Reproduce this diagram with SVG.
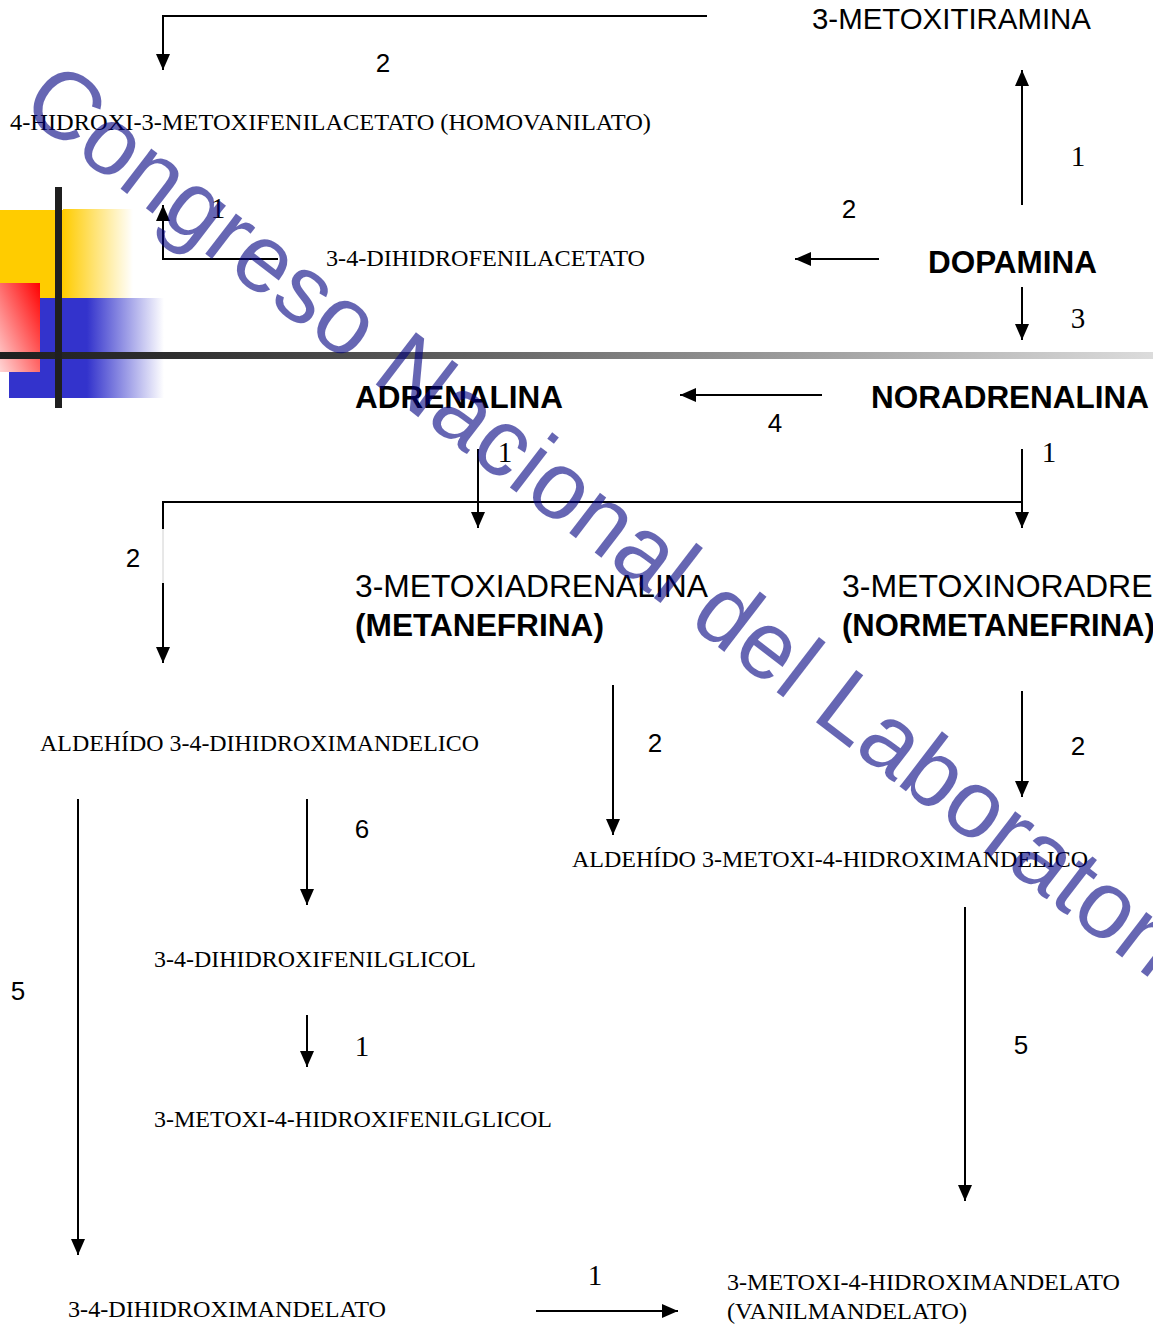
<svg xmlns="http://www.w3.org/2000/svg" width="1153" height="1326" viewBox="0 0 1153 1326">
<style>
.s{font-family:"Liberation Serif","Times New Roman",serif;font-size:24px;fill:#000}
.a{font-family:"Liberation Sans",Arial,sans-serif;font-size:32px;fill:#000}
.b{font-family:"Liberation Sans",Arial,sans-serif;font-size:31px;font-weight:bold;fill:#000}
.n{font-family:"Liberation Sans",Arial,sans-serif;font-size:26px;fill:#000;text-anchor:middle}
.t{font-family:"Liberation Serif","Times New Roman",serif;font-size:29px;fill:#000;text-anchor:middle}
.c{fill:none;stroke:#000;stroke-width:2}
.wm{font-family:"Liberation Sans",Arial,sans-serif;font-size:96px;fill:#000080;fill-opacity:0.6}
</style>
<defs>
<marker id="ah" viewBox="0 0 16 14" refX="16" refY="7" markerWidth="16" markerHeight="14" markerUnits="userSpaceOnUse" orient="auto">
<path d="M0,0 L16,7 L0,14 z" fill="#000"/>
</marker>
<linearGradient id="gy" x1="0" y1="0" x2="1" y2="0"><stop offset="0" stop-color="#FFCC00"/><stop offset="1" stop-color="#FFCC00" stop-opacity="0"/></linearGradient>
<linearGradient id="gb" x1="0" y1="0" x2="1" y2="0"><stop offset="0" stop-color="#3333CC"/><stop offset="1" stop-color="#3333CC" stop-opacity="0"/></linearGradient>
<linearGradient id="gr" x1="1" y1="0" x2="0" y2="1"><stop offset="0" stop-color="#FF0000"/><stop offset="1" stop-color="#FFD6D6"/></linearGradient>
<linearGradient id="gh" x1="0" y1="0" x2="1" y2="0"><stop offset="0" stop-color="#1F1F1F"/><stop offset="0.15" stop-color="#2E2E2E"/><stop offset="1" stop-color="#DCDCDC"/></linearGradient>
</defs>
<rect width="1153" height="1326" fill="#fff"/>
<g id="decoration">
<rect x="0" y="210" width="63" height="88" fill="#FFCC00"/>
<rect x="63" y="209" width="70" height="89" fill="url(#gy)"/>
<rect x="9" y="298" width="78" height="100" fill="#3333CC"/>
<rect x="87" y="298" width="77" height="100" fill="url(#gb)"/>
<rect x="0" y="283" width="40" height="89" fill="url(#gr)"/>
<rect x="0" y="352" width="1153" height="7" fill="url(#gh)"/>
<rect x="55" y="187" width="7" height="221" fill="#1F1F1F"/>
</g>
<g id="connectors">
<path class="c" d="M707,16 H163 V70" marker-end="url(#ah)"/>
<path class="c" d="M1022,205 V70" marker-end="url(#ah)"/>
<path class="c" d="M879,259 H795" marker-end="url(#ah)"/>
<path class="c" d="M1022,287 V340" marker-end="url(#ah)"/>
<path class="c" d="M278,259 H163 V205" marker-end="url(#ah)"/>
<path class="c" d="M822,395 H680" marker-end="url(#ah)"/>
<path class="c" d="M478,449 V528" marker-end="url(#ah)"/>
<path class="c" d="M1022,449 V528" marker-end="url(#ah)"/>
<path class="c" d="M163,529 V502 H1022"/>
<path d="M163,529 V583" stroke="#d0d0d0" stroke-width="1" fill="none"/>
<path class="c" d="M163,583 V663" marker-end="url(#ah)"/>
<path class="c" d="M613,685 V835" marker-end="url(#ah)"/>
<path class="c" d="M1022,691 V797" marker-end="url(#ah)"/>
<path class="c" d="M78,799 V1255" marker-end="url(#ah)"/>
<path class="c" d="M307,799 V905" marker-end="url(#ah)"/>
<path class="c" d="M307,1015 V1067" marker-end="url(#ah)"/>
<path class="c" d="M965,907 V1201" marker-end="url(#ah)"/>
<path class="c" d="M536,1311 H678" marker-end="url(#ah)"/>
</g>
<g id="labels">
<text class="n" x="383" y="72">2</text>
<text class="t" x="1078" y="166">1</text>
<text class="n" x="849" y="218">2</text>
<text class="t" x="1078" y="328">3</text>
<text class="t" x="218" y="218">1</text>
<text class="n" x="775" y="432">4</text>
<text class="t" x="505" y="462">1</text>
<text class="t" x="1049" y="462">1</text>
<text class="n" x="133" y="567">2</text>
<text class="n" x="655" y="752">2</text>
<text class="n" x="1078" y="755">2</text>
<text class="n" x="362" y="838">6</text>
<text class="n" x="18" y="1000">5</text>
<text class="t" x="362" y="1056">1</text>
<text class="n" x="1021" y="1054">5</text>
<text class="t" x="595" y="1285">1</text>
</g>
<g id="metoxitiramina"><text class="a" style="font-size:29px" x="812" y="29" textLength="279" lengthAdjust="spacingAndGlyphs">3-METOXITIRAMINA</text></g>
<g id="homovanilato"><text class="s" x="10" y="130" textLength="641" lengthAdjust="spacingAndGlyphs">4-HIDROXI-3-METOXIFENILACETATO (HOMOVANILATO)</text></g>
<g id="dopamina"><text class="b" x="928" y="273" textLength="169" lengthAdjust="spacingAndGlyphs">DOPAMINA</text></g>
<g id="dihidrofenilacetato"><text class="s" x="326" y="266" textLength="319" lengthAdjust="spacingAndGlyphs">3-4-DIHIDROFENILACETATO</text></g>
<g id="adrenalina"><text class="b" x="355" y="408" textLength="208" lengthAdjust="spacingAndGlyphs">ADRENALINA</text></g>
<g id="noradrenalina"><text class="b" x="871" y="408" textLength="278" lengthAdjust="spacingAndGlyphs">NORADRENALINA</text></g>
<g id="metanefrina">
<text class="a" x="355" y="597" textLength="353" lengthAdjust="spacingAndGlyphs">3-METOXIADRENALINA</text>
<text class="b" x="355" y="636" textLength="249" lengthAdjust="spacingAndGlyphs">(METANEFRINA)</text>
</g>
<g id="normetanefrina">
<text class="a" x="842" y="597">3-METOXINORADRE</text>
<text class="b" x="842" y="636">(NORMETANEFRINA)</text>
</g>
<g id="aldehido-dihidroximandelico"><text class="s" x="40" y="751" textLength="439" lengthAdjust="spacingAndGlyphs">ALDEHÍDO 3-4-DIHIDROXIMANDELICO</text></g>
<g id="aldehido-metoxi"><text class="s" x="572" y="867" textLength="516" lengthAdjust="spacingAndGlyphs">ALDEHÍDO 3-METOXI-4-HIDROXIMANDELICO</text></g>
<g id="dihidroxifenilglicol"><text class="s" x="154" y="967" textLength="322" lengthAdjust="spacingAndGlyphs">3-4-DIHIDROXIFENILGLICOL</text></g>
<g id="metoxifenilglicol"><text class="s" x="154" y="1127" textLength="398" lengthAdjust="spacingAndGlyphs">3-METOXI-4-HIDROXIFENILGLICOL</text></g>
<g id="dihidroximandelato"><text class="s" x="68" y="1317" textLength="318" lengthAdjust="spacingAndGlyphs">3-4-DIHIDROXIMANDELATO</text></g>
<g id="vanilmandelato">
<text class="s" x="727" y="1290" textLength="393" lengthAdjust="spacingAndGlyphs">3-METOXI-4-HIDROXIMANDELATO</text>
<text class="s" x="727" y="1319" textLength="240" lengthAdjust="spacingAndGlyphs">(VANILMANDELATO)</text>
</g>
<g id="watermark"><text class="wm" transform="translate(18,110) rotate(37.5)">Congreso Nacional del Laboratorio</text></g>
</svg>
